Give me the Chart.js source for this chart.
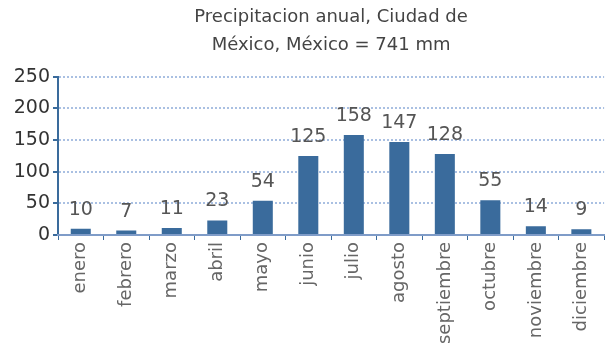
<!DOCTYPE html>
<html lang="es">
<head>
  <meta charset="UTF-8">
  <title>Precipitacion anual, Ciudad de México</title>
  <script src="https://cdn.jsdelivr.net/npm/chart.js"></script>
  <style>
    html, body { margin: 0; padding: 0; background: #ffffff; }
    #wrap { width: 605px; height: 360px; }
  </style>
</head>
<body>
  <div id="wrap"><canvas id="rainChart" width="605" height="360"></canvas></div>

  <script>
    const months = ['enero', 'febrero', 'marzo', 'abril', 'mayo', 'junio', 'julio',
                    'agosto', 'septiembre', 'octubre', 'noviembre', 'diciembre'];
    const rainfall = [10, 7, 11, 23, 54, 125, 158, 147, 128, 55, 14, 9];
    const titleLines = ['Precipitacion anual, Ciudad de', 'México, México = 741 mm'];
    const yTicks = [0, 50, 100, 150, 200, 250];

    const FONT = '"DejaVu Sans", Verdana, sans-serif';
    const BLUE = '#3a6b9c';

    // values drawn above each bar
    const valueLabels = {
      id: 'valueLabels',
      afterDatasetsDraw(chart) {
        const ctx = chart.ctx;
        const meta = chart.getDatasetMeta(0);
        ctx.save();
        ctx.font = '19px ' + FONT;
        ctx.fillStyle = '#555555';
        ctx.textAlign = 'center';
        ctx.textBaseline = 'middle';
        meta.data.forEach((bar, i) => {
          ctx.fillText(String(rainfall[i]), bar.x, bar.y - 19);
        });
        ctx.restore();
      }
    };

    new Chart(document.getElementById('rainChart'), {
      type: 'bar',
      data: {
        labels: months,
        datasets: [{
          data: rainfall,
          backgroundColor: BLUE,
          barPercentage: 0.44,
          categoryPercentage: 1.0
        }]
      },
      options: {
        responsive: false,
        animation: false,
        layout: { padding: { top: 3, right: 0, left: 0, bottom: 0 } },
        plugins: {
          legend: { display: false },
          tooltip: { enabled: false },
          title: {
            display: true,
            text: titleLines,
            fullSize: false,
            color: '#444444',
            font: { family: FONT, size: 18, weight: 'normal', lineHeight: 1.55 },
            padding: { top: 0, bottom: 18 }
          }
        },
        scales: {
          y: {
            min: 0,
            max: 250,
            afterFit(scale) { scale.width = 58; },
            afterBuildTicks(scale) { scale.ticks = yTicks.map(v => ({ value: v })); },
            ticks: {
              color: '#333333',
              font: { family: FONT, size: 19 },
              padding: 3
            },
            grid: {
              color: '#aac0e2',
              lineWidth: 2,
              tickLength: 5,
              tickColor: BLUE
            },
            border: { display: true, color: BLUE, width: 2, dash: [2, 2] }
          },
          x: {
            afterFit(scale) { scale.height = 125; },
            ticks: {
              color: '#666666',
              font: { family: FONT, size: 18 },
              minRotation: 90,
              maxRotation: 90,
              padding: 2,
              autoSkip: false
            },
            grid: {
              offset: true,
              drawOnChartArea: false,
              color: BLUE,
              tickLength: 5
            },
            border: { display: true, color: '#7f9cc8', width: 2 }
          }
        }
      },
      plugins: [valueLabels]
    });
  </script>
</body>
</html>
